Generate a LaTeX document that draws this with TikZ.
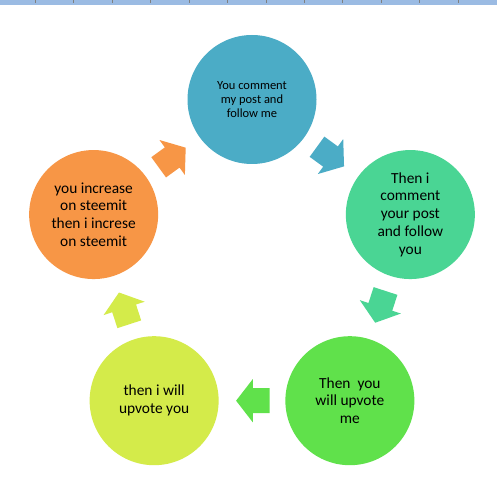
\documentclass[tikz,border=0pt]{standalone}
\usepackage{fontspec}
\setmainfont{Carlito}
\definecolor{cA}{RGB}{75,172,198}
\definecolor{cB}{RGB}{74,213,148}
\definecolor{cC}{RGB}{96,225,75}
\definecolor{cD}{RGB}{212,235,74}
\definecolor{cE}{RGB}{247,150,70}
\definecolor{stripblue}{RGB}{155,187,227}
\definecolor{tickgray}{RGB}{128,128,128}
\begin{document}
\begin{tikzpicture}[x=1pt,y=1pt,
  blob/.style={circle,inner sep=0pt,minimum size=129pt,align=center,text=black,
    font=\fontsize{15.4}{17.7}\selectfont},
  cyclearrow/.style={}]
\useasboundingbox (-252,-231) rectangle (245,266);
\fill[white] (-252,-231) rectangle (245,266);
% top strip
\fill[stripblue] (-252,261) rectangle (245,266);
\foreach \k in {0,...,11} \draw[tickgray,line width=1pt] ({35.3+38.45*\k-252},266) -- ++(0,-3.4);
% circles
\node[blob,fill=cA,font=\fontsize{12.5}{14}\selectfont] (a) at (90:166.5) {You comment\\my post and\\follow me};
\node[blob,fill=cB] (b) at (18:166.5) {Then i\\comment\\your post\\and follow\\you};
\node[blob,fill=cC] (c) at (-54:166.5) {Then\ \ you\\will upvote\\me};
\node[blob,fill=cD] (d) at (-126:166.5) {then i will\\upvote you};
\node[blob,fill=cE] (e) at (162:166.5) {you increase\\on steemit\\then i increse\\on steemit};
% arrows
\foreach \m/\col in {126/cE,54/cA,-18/cB,-90/cC,-162/cD}{
  \begin{scope}[shift={(\m:134.7)},rotate=\m-90]
    \fill[\col] (-17.5,-12.5) -- (-0.8,-12.5) -- (-0.8,-21.6) -- (15.9,0) -- (-0.8,21.6) -- (-0.8,12.5) -- (-17.5,12.5) -- cycle;
  \end{scope}
}
\end{tikzpicture}
\end{document}
